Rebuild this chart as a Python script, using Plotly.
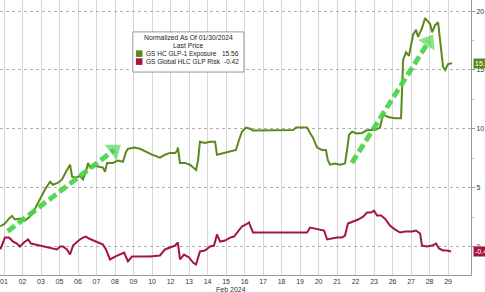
import plotly.graph_objects as go

# ---- data ----
tick_labels = ["01","02","03","05","06","07","08","09","10","12","13","14","15",
               "16","17","18","19","20","21","22","23","26","27","28","29"]

glp1_x = [-0.2,0.05,0.27,0.43,0.59,0.86,1.14,1.4,1.57,1.95,2.2,2.49,2.65,2.9,3.14,3.35,3.57,3.68,3.89,4.1,
          4.27,4.43,4.54,4.65,4.81,5.08,5.35,5.46,5.57,5.89,6.16,6.43,6.6,6.7,7.03,7.35,7.68,8.0,8.43,8.7,
          8.97,9.24,9.35,9.4,9.51,9.78,10.05,10.27,10.38,10.49,10.59,10.86,11.14,11.41,11.51,11.78,12.11,12.38,12.54,12.7,
          12.86,13.08,13.3,13.46,13.73,14.2,14.7,15.2,15.62,15.78,16.38,16.54,16.7,16.92,17.19,17.4,17.5,17.62,17.89,18.16,
          18.43,18.54,18.65,18.81,19.08,19.35,19.57,19.78,20.05,20.32,20.49,20.76,21.14,21.46,21.57,21.73,21.89,22.11,22.27,22.38,
          22.59,22.76,22.92,23.03,23.14,23.3,23.46,23.62,23.73,23.84,24.0,24.22]
glp1_y = [1.7,1.95,2.37,2.6,2.3,2.37,2.2,2.55,2.9,4.0,4.8,5.5,5.25,5.4,5.7,6.35,6.95,5.93,5.85,6.0,
          5.7,6.35,7.1,6.7,6.85,6.8,6.7,6.35,7.1,7.1,7.3,7.2,8.05,8.3,8.4,8.3,8.05,7.8,7.55,7.8,
          7.95,7.95,8.1,8.4,7.1,7.1,6.95,6.7,6.5,7.35,8.9,8.8,8.9,8.9,7.8,7.9,8.05,8.15,8.2,9.05,
          9.75,10.1,10.0,9.85,9.85,9.9,9.88,9.9,9.9,10.1,10.1,9.65,9.25,8.4,8.2,8.2,7.35,6.95,7.05,6.95,
          7.05,8.2,9.5,9.75,9.6,9.65,9.85,9.9,9.9,10.1,11.2,11.0,10.9,10.9,15.85,16.5,16.2,18.0,18.4,17.8,
          18.55,19.4,19.05,18.9,18.2,18.8,19.05,16.7,15.25,15.0,15.5,15.56]

risk_x = [-0.2,-0.05,0.05,0.27,0.49,0.7,0.86,1.08,1.3,1.46,1.68,2.11,2.49,2.86,3.03,3.19,3.4,3.57,3.73,3.89,
          4.1,4.27,4.43,4.59,4.86,5.14,5.35,5.51,5.73,6.0,6.27,6.49,6.7,6.92,7.35,7.89,8.43,8.7,8.97,9.24,
          9.4,9.51,9.73,10.0,10.22,10.38,10.59,10.86,11.14,11.35,11.51,11.68,11.95,12.22,12.43,12.65,12.86,13.08,13.24,13.35,
          13.46,14.5,15.5,16.38,16.54,16.81,17.08,17.3,17.46,17.73,18.0,18.27,18.43,18.59,18.86,19.14,19.41,19.62,19.84,20.0,
          20.16,20.38,20.59,20.86,21.14,21.41,21.68,22.05,22.27,22.49,22.59,22.86,23.14,23.35,23.51,23.73,23.95,24.16]
risk_y = [-0.25,0.34,0.76,0.76,0.42,0.25,0.0,0.34,0.6,0.25,0.17,0.0,-0.08,-0.25,0.0,0.0,-0.25,-0.68,0.08,0.34,
          0.6,0.76,0.85,0.68,0.51,0.34,0.17,-0.25,-1.1,-0.85,-0.68,-0.51,-1.27,-0.85,-0.85,-0.85,-0.76,-0.25,-0.08,0.08,
          0.34,-1.1,-0.68,-0.93,-1.36,-1.53,-0.42,-0.34,0.0,0.08,1.02,0.42,0.51,0.76,0.85,1.27,1.7,1.87,2.04,1.61,
          1.19,1.19,1.19,1.19,1.61,1.53,1.44,1.36,0.6,0.68,0.76,0.76,0.93,1.95,2.12,2.29,2.54,2.88,2.88,3.05,
          2.63,2.63,2.37,1.78,1.44,1.19,1.27,1.27,1.36,1.1,0.08,0.0,0.08,0.25,-0.17,-0.34,-0.34,-0.42]

# trend arrows (start, end) in axis units
arrow1_x = [0.2, 5.95]
arrow1_y = [1.3, 8.2]
arrow2_x = [18.8, 22.95]
arrow2_y = [7.1, 17.4]

GREEN = "#5b8a1c"
RED = "#a3173f"
ARROW = "rgba(72,212,72,0.92)"
FONT = "Liberation Sans"

fig = go.Figure()

fig.add_trace(go.Scatter(x=risk_x, y=risk_y, mode="lines", line=dict(color=RED, width=2),
                         name="GS Global HLC GLP Risk", showlegend=False))
fig.add_trace(go.Scatter(x=glp1_x, y=glp1_y, mode="lines", line=dict(color=GREEN, width=2),
                         name="GS HC GLP-1 Exposure", showlegend=False))

for ax_, ay_ in [(arrow1_x, arrow1_y), (arrow2_x, arrow2_y)]:
    fig.add_trace(go.Scatter(x=ax_, y=ay_, mode="lines", line=dict(color=ARROW, width=5, dash="9px,4px"),
                             hoverinfo="skip", showlegend=False))
    fig.add_trace(go.Scatter(x=ax_, y=ay_, mode="markers",
                             marker=dict(symbol="triangle-up", size=[0, 17], color=ARROW, angleref="previous",
                                         line=dict(width=0)),
                             hoverinfo="skip", showlegend=False))

fig.update_layout(
    width=485, height=292,
    margin=dict(l=0, r=14, t=0, b=17),
    paper_bgcolor="white", plot_bgcolor="white",
    font=dict(family=FONT, size=7, color="#333333"),
    xaxis=dict(range=[-0.216, 25.24], tickmode="array", tickvals=list(range(len(tick_labels))),
               ticktext=tick_labels, showgrid=True, gridcolor="#d6d6d6", gridwidth=1,
               showline=True, linecolor="#999999", linewidth=1, ticks="", zeroline=False,
               tickfont=dict(size=7, color="#333333")),
    yaxis=dict(range=[-2.42, 20.94], side="right", tickvals=[0, 5, 10, 15, 20],
               showgrid=True, gridcolor="#b0b0b0", griddash="dot", gridwidth=1,
               showline=True, linecolor="#999999", linewidth=1, ticks="outside", ticklen=3,
               tickcolor="#999999", zeroline=False,
               minor=dict(tickvals=[2.5, 7.5, 12.5, 17.5], ticks="outside", ticklen=2, tickcolor="#bbbbbb",
                          showgrid=False),
               tickfont=dict(size=7, color="#333333")),
)

# month label
fig.add_annotation(x=12.25, y=0, xref="x", yref="paper", yshift=-9, text="Feb 2024", showarrow=False,
                   font=dict(size=7, color="#333333"), yanchor="top", xanchor="center")

# legend box
fig.add_shape(type="rect", xref="paper", yref="paper", x0=0.282, x1=0.518, y0=0.738, y1=0.884,
              fillcolor="white", line=dict(color="#9a9a9a", width=1))
fig.add_annotation(x=0.4, y=0.862, xref="paper", yref="paper", text="Normalized As Of 01/30/2024",
                   showarrow=False, xanchor="center", yanchor="middle", font=dict(size=6.8, color="#222222"))
fig.add_annotation(x=0.4, y=0.834, xref="paper", yref="paper", text="Last Price",
                   showarrow=False, xanchor="center", yanchor="middle", font=dict(size=6.8, color="#222222"))
items = [("GS HC GLP-1 Exposure", glp1_y[-1], GREEN, 0.805), ("GS Global HLC GLP Risk", risk_y[-1], RED, 0.776)]
for name, val, col, yy in items:
    fig.add_shape(type="rect", xref="paper", yref="paper", x0=0.2885, x1=0.3025, y0=yy - 0.012, y1=yy + 0.012,
                  fillcolor=col, line=dict(width=0))
    fig.add_annotation(x=0.306, y=yy, xref="paper", yref="paper", text=name,
                       showarrow=False, xanchor="left", yanchor="middle", font=dict(size=6.5, color="#222222"))
    fig.add_annotation(x=0.512, y=yy, xref="paper", yref="paper", text="%.2f" % val,
                       showarrow=False, xanchor="right", yanchor="middle", font=dict(size=6.5, color="#222222"))

# last value tags
for val, col in [(glp1_y[-1], GREEN), (risk_y[-1], RED)]:
    fig.add_annotation(x=1, y=val, xref="paper", yref="y", text="%.2f" % val, showarrow=False,
                       xanchor="left", yanchor="middle", xshift=2, bgcolor=col, font=dict(size=7, color="white"),
                       borderpad=1)

fig.write_html("out.html")
